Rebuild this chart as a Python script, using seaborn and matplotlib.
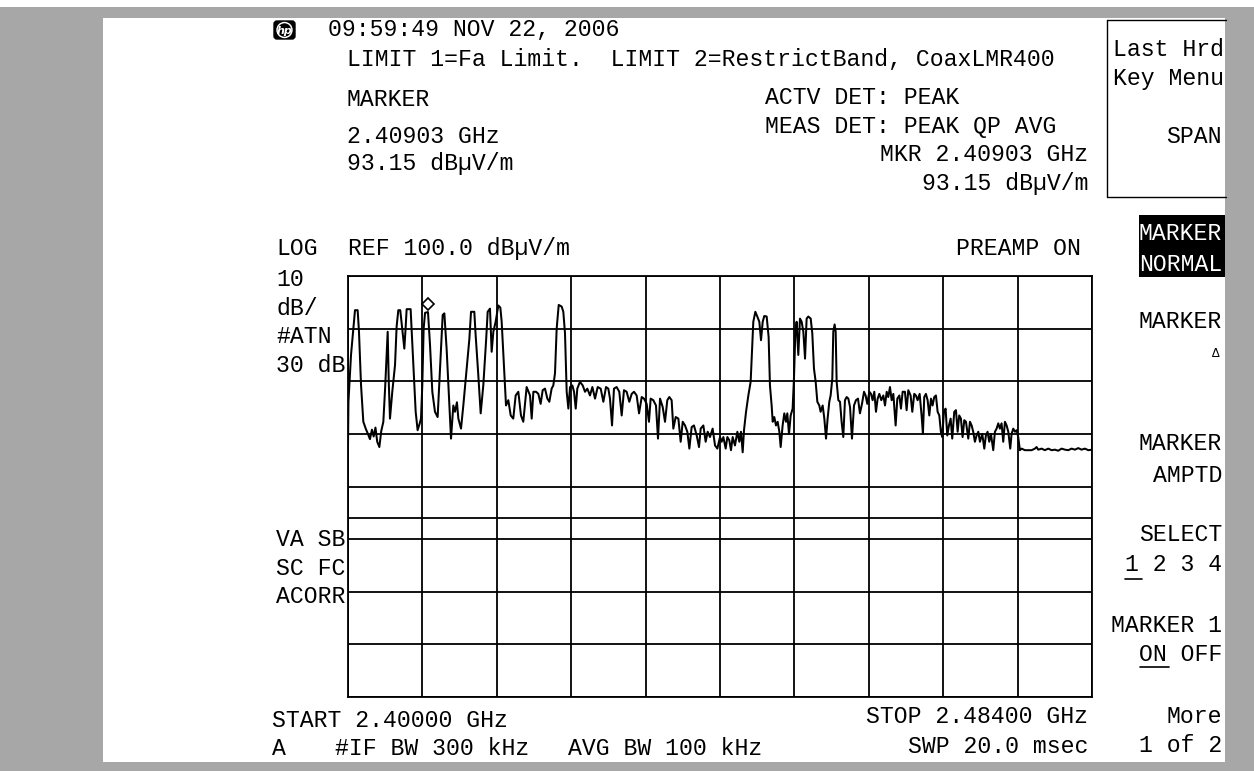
import numpy as np
import pandas as pd
import matplotlib
matplotlib.use("Agg")
import matplotlib.pyplot as plt
from matplotlib.patches import Rectangle, FancyBboxPatch, Circle
import seaborn as sns

# ---------------- data ----------------
start_ghz = 2.40000
stop_ghz = 2.48400
ref_level = 100.0          # dBuV/m
db_per_div = 10
limit2_level = 54.0        # restricted band limit line
marker_freq_mhz = 2409.03
marker_level = 93.15

freq_mhz = [
    2400.00, 2400.05, 2400.34, 2400.60, 2400.79, 2401.09, 2401.24, 2401.47, 2401.73, 2402.00,
    2402.20, 2402.48, 2402.70, 2402.90, 2403.10, 2403.30, 2403.54, 2403.75, 2403.99, 2404.20,
    2404.37, 2404.48, 2404.60, 2404.74, 2405.00, 2405.31, 2405.49, 2405.68, 2405.90, 2406.06,
    2406.36, 2406.50, 2406.62, 2407.07, 2407.38, 2407.64, 2407.86, 2408.10, 2408.24, 2408.39,
    2408.54, 2408.70, 2409.03, 2409.26, 2409.52, 2409.82, 2410.12, 2410.39, 2410.69, 2410.88,
    2411.14, 2411.40, 2411.63, 2411.89, 2412.08, 2412.30, 2412.46, 2412.76, 2413.02, 2413.40,
    2413.70, 2413.89, 2414.26, 2414.41, 2414.71, 2414.98, 2415.28, 2415.60, 2415.77, 2416.03,
    2416.22, 2416.41, 2416.67, 2416.97, 2417.20, 2417.35, 2417.65, 2417.84, 2418.10, 2418.37,
    2418.66, 2418.93, 2419.23, 2419.53, 2419.79, 2420.17,
    2420.55, 2420.74, 2420.93, 2421.23, 2421.49, 2421.75, 2421.98, 2422.24, 2422.51, 2422.73,
    2422.99, 2423.18, 2423.37, 2423.56, 2423.79, 2424.12, 2424.31, 2424.50, 2424.69, 2424.88,
    2425.07, 2425.33, 2425.52, 2425.71, 2425.89, 2426.19, 2426.50, 2426.76, 2427.02, 2427.32,
    2427.59, 2427.89, 2428.19, 2428.53, 2428.83, 2429.13, 2429.39, 2429.58, 2429.81, 2430.03,
    2430.33, 2430.63, 2430.90, 2431.16, 2431.46, 2431.76, 2432.03, 2432.29, 2432.59, 2432.86,
    2433.16, 2433.42, 2433.72, 2433.98, 2434.17, 2434.47, 2434.77, 2435.00, 2435.23, 2435.53,
    2435.79, 2436.05, 2436.28, 2436.54, 2436.73, 2437.00, 2437.30, 2437.56, 2437.79, 2438.05,
    2438.31, 2438.54, 2438.80, 2439.06, 2439.37, 2439.63, 2439.82, 2440.12, 2440.38, 2440.61,
    2440.87, 2441.17, 2441.44, 2441.70,
    2442.00, 2442.19, 2442.38, 2442.64, 2442.83, 2443.05, 2443.24, 2443.43, 2443.69, 2443.96,
    2444.18, 2444.37, 2444.56, 2444.71, 2444.94, 2445.20, 2445.46, 2445.61, 2445.76, 2445.99,
    2446.21, 2446.44, 2446.63, 2446.82, 2447.00, 2447.27, 2447.49, 2447.64, 2447.83, 2447.95,
    2448.13, 2448.32, 2448.51, 2448.70, 2448.85, 2449.07, 2449.26, 2449.45, 2449.60, 2449.79,
    2449.98, 2450.20, 2450.35, 2450.50, 2450.65, 2450.84, 2451.03, 2451.22, 2451.41, 2451.60,
    2451.78, 2451.97, 2452.24, 2452.42, 2452.61, 2452.80, 2452.99, 2453.21, 2453.36, 2453.59,
    2453.78, 2453.97, 2454.15, 2454.34, 2454.49, 2454.68, 2454.79, 2454.94, 2455.06, 2455.17,
    2455.36, 2455.55, 2455.73, 2455.92, 2456.11, 2456.30, 2456.49, 2456.68, 2456.90, 2457.13,
    2457.35, 2457.58, 2457.80, 2458.03, 2458.26, 2458.44, 2458.63, 2458.86, 2459.05, 2459.23,
    2459.42, 2459.61, 2459.80, 2459.99, 2460.21, 2460.44, 2460.63, 2460.82, 2461.00, 2461.19,
    2461.38, 2461.57, 2461.83, 2462.02, 2462.25, 2462.43, 2462.62,
    2462.88, 2463.07, 2463.26, 2463.52, 2463.71, 2463.93, 2464.12, 2464.31, 2464.54, 2464.76,
    2464.91, 2465.06, 2465.25, 2465.44, 2465.63, 2465.82, 2466.00, 2466.19, 2466.38, 2466.57,
    2466.76, 2466.94, 2467.09, 2467.28, 2467.47, 2467.66, 2467.85, 2468.04, 2468.22, 2468.45,
    2468.64, 2468.83, 2469.01, 2469.20, 2469.39, 2469.58, 2469.77, 2470.03, 2470.22, 2470.41,
    2470.59, 2470.78, 2470.97, 2471.16, 2471.35, 2471.61, 2471.84, 2472.02, 2472.21, 2472.40,
    2472.59, 2472.85, 2473.04, 2473.23, 2473.42, 2473.60, 2473.79, 2473.98, 2474.17, 2474.36,
    2474.55, 2474.77, 2474.92, 2475.11, 2475.30, 2475.49, 2475.67, 2475.86, 2476.05, 2476.43,
    2476.80, 2477.18, 2477.56, 2477.74, 2477.93, 2478.31, 2478.68, 2479.06, 2479.44, 2479.81,
    2480.19, 2480.57, 2480.94, 2481.32, 2481.70, 2482.07, 2482.45, 2482.82, 2483.20, 2483.58,
    2484.00,
]

level_db = [
    67.8, 76.1, 85.0, 90.0, 93.5, 93.5, 89.4, 79.3, 72.3, 71.0,
    70.2, 69.0, 70.8, 69.5, 71.2, 68.5, 67.5, 70.5, 72.3, 79.0,
    85.6, 89.4, 80.0, 72.9, 78.0, 83.1, 90.4, 93.5, 93.5, 91.0,
    86.2, 90.0, 93.7, 93.7, 83.1, 74.2, 70.7, 72.0, 72.9, 79.3,
    90.0, 93.0, 93.15, 86.9, 78.0, 74.2, 73.2, 82.4, 92.6, 92.9,
    86.0, 77.0, 69.1, 75.4, 74.2, 76.0, 72.9, 71.0, 75.4, 82.4,
    88.0, 93.2, 93.2, 88.8, 81.2, 73.9, 79.3, 88.0, 93.2, 93.8,
    85.6, 89.4, 91.3, 94.4, 94.0, 91.3, 81.8, 75.4, 76.4, 73.5,
    72.9, 77.3, 78.0, 73.5, 72.3, 78.9,
    77.3, 72.9, 78.0, 78.0, 77.6, 75.7, 78.3, 78.6, 76.7, 76.1,
    78.6, 79.2, 81.5, 90.0, 94.5, 94.2, 93.2, 89.1, 78.0, 74.8,
    78.9, 79.2, 78.0, 74.8, 78.6, 79.9, 79.2, 78.0, 78.6, 77.3,
    78.9, 76.7, 78.9, 78.6, 76.1, 78.9, 78.6, 76.7, 71.6, 78.6,
    78.9, 78.0, 73.5, 78.3, 78.0, 76.1, 77.6, 78.0, 77.3, 73.9,
    77.0, 76.7, 75.7, 72.3, 76.7, 76.4, 75.4, 69.1, 76.7, 75.1,
    72.3, 76.4, 77.0, 76.4, 71.0, 73.2, 72.9, 68.5, 72.3, 71.6,
    70.4, 67.2, 71.3, 71.6, 69.7, 67.5, 71.0, 71.6, 68.5, 70.4,
    69.4, 71.0, 67.8, 67.2,
    69.4, 68.5, 69.4, 67.2, 69.4, 68.8, 66.9, 69.4, 67.8, 70.4,
    68.5, 70.4, 66.5, 70.7, 74.2, 77.3, 79.9, 85.6, 91.3, 93.2,
    92.3, 91.3, 87.8, 91.3, 92.4, 92.3, 88.4, 79.2, 75.4, 72.3,
    73.2, 71.6, 72.3, 70.4, 67.5, 71.6, 73.9, 72.3, 73.9, 70.0,
    73.5, 74.8, 80.5, 88.8, 91.3, 85.0, 91.9, 91.3, 89.4, 84.3,
    91.9, 92.3, 91.9, 89.1, 82.4, 79.9, 76.1, 75.4, 74.2, 75.4,
    72.9, 69.1, 72.9, 76.1, 77.3, 80.5, 89.4, 90.8, 89.4, 79.9,
    76.4, 76.1, 72.3, 69.4, 76.4, 77.0, 76.7, 75.1, 69.1, 75.4,
    76.4, 76.7, 73.9, 75.7, 78.0, 77.3, 75.7, 78.0, 77.6, 76.4,
    78.0, 74.2, 76.7, 77.6, 76.4, 77.3, 75.4, 78.0, 77.0, 78.9,
    76.4, 77.6, 71.6, 76.7, 77.3, 74.8, 78.0,
    78.0, 74.5, 78.3, 77.3, 74.2, 77.6, 77.3, 76.4, 77.6, 73.5,
    70.0, 77.0, 77.6, 76.4, 73.5, 76.7, 75.4, 77.0, 77.3, 74.2,
    73.5, 70.4, 69.4, 74.2, 74.8, 69.7, 71.6, 72.9, 69.1, 74.2,
    74.5, 70.4, 73.5, 72.9, 69.4, 72.6, 72.3, 69.1, 72.3, 71.6,
    70.4, 68.5, 69.7, 70.4, 68.5, 70.0, 67.2, 69.7, 70.4, 68.5,
    70.0, 66.9, 70.4, 71.0, 72.0, 71.0, 72.0, 68.5, 72.3, 71.6,
    70.4, 67.2, 70.0, 71.0, 70.4, 70.7, 69.4, 66.9, 67.2, 66.9,
    66.9, 66.9, 67.2, 67.5, 67.0, 67.2, 66.9, 67.2, 66.9, 67.0,
    66.8, 67.2, 67.0, 66.9, 67.2, 67.0, 67.3, 67.0, 67.2, 66.9,
    67.0,
]

# ---------------- figure ----------------
sns.set_theme(style="white")
plt.rcParams["font.family"] = ["Liberation Mono", "DejaVu Sans Mono"]

W, H = 1254, 771
fig = plt.figure(figsize=(W / 100, H / 100), dpi=100, facecolor="white")

# overlay axes in pixel coordinates for screen annotations
ov = fig.add_axes([0, 0, 1, 1], zorder=0)
ov.set_xlim(0, W)
ov.set_ylim(H, 0)
ov.axis("off")

gray = "#a7a7a7"
ov.add_patch(Rectangle((0, 7), W, 11, color=gray, lw=0))
ov.add_patch(Rectangle((0, 7), 103, H, color=gray, lw=0))
ov.add_patch(Rectangle((1225, 7), W - 1225, H, color=gray, lw=0))
ov.add_patch(Rectangle((0, 762), W, 10, color=gray, lw=0))

FS = 16.7
def txt(x, y, s, ha="left", color="black", **kw):
    ov.text(x, y, s, ha=ha, va="baseline", fontsize=FS, color=color, **kw)

# hp logo
ov.add_patch(FancyBboxPatch((274, 21), 21, 18, boxstyle="round,pad=0,rounding_size=3",
                            fc="black", ec="black"))
ov.add_patch(Circle((284.5, 30), 7.5, fc="white", ec="white"))
ov.add_patch(Circle((284.5, 30), 6.0, fc="black", ec="black"))
ov.text(284.5, 30.5, "hp", ha="center", va="center", fontsize=8, color="white",
        style="italic", fontweight="bold", family="DejaVu Sans")

# header text
txt(328, 36, "09:59:49 NOV 22, 2006")
txt(347, 66, "LIMIT 1=Fa Limit.  LIMIT 2=RestrictBand, CoaxLMR400")
txt(347, 106, "MARKER")
txt(347, 143, "2.40903 GHz")
txt(347, 170, "93.15 dB\u00b5V/m")
txt(765, 104, "ACTV DET: PEAK")
txt(765, 133, "MEAS DET: PEAK QP AVG")
txt(1088, 161, "MKR 2.40903 GHz", ha="right")
txt(1088, 190, "93.15 dB\u00b5V/m", ha="right")

txt(276, 255, "LOG")
txt(348, 255, "REF 100.0 dB\u00b5V/m")
txt(1081, 255, "PREAMP ON", ha="right")
txt(276, 286, "10")
txt(276, 315, "dB/")
txt(276, 343, "#ATN")
txt(276, 372, "30 dB")
txt(276, 546, "VA SB")
txt(276, 575, "SC FC")
txt(276, 603, "ACORR")

txt(272, 727, "START 2.40000 GHz")
txt(272, 755, "A")
txt(335, 755, "#IF BW 300 kHz")
txt(568, 755, "AVG BW 100 kHz")
txt(1088, 723, "STOP 2.48400 GHz", ha="right")
txt(1088, 753, "SWP 20.0 msec", ha="right")

# softkey panel
ov.plot([1107, 1107, 1226], [20, 197, 197], color="black", lw=1.0)
ov.plot([1107, 1226], [20, 20], color="black", lw=1.0)
txt(1113, 56, "Last Hrd")
txt(1113, 85, "Key Menu")
txt(1222, 143, "SPAN", ha="right")
ov.add_patch(Rectangle((1139, 215), 86, 62, color="black", lw=0))
txt(1222, 240, "MARKER", ha="right", color="white")
txt(1222, 271, "NORMAL", ha="right", color="white")
txt(1222, 328, "MARKER", ha="right")
ov.text(1216, 357, "\u0394", ha="center", va="baseline", fontsize=9, color="black")
txt(1222, 450, "MARKER", ha="right")
txt(1222, 482, "AMPTD", ha="right")
txt(1222, 541, "SELECT", ha="right")
txt(1222, 571, "1 2 3 4", ha="right")
ov.plot([1125, 1142], [579, 579], color="black", lw=1.2)
txt(1222, 632, "MARKER 1", ha="right")
txt(1222, 661, "ON OFF", ha="right")
ov.plot([1140, 1169], [667, 667], color="black", lw=1.2)
txt(1222, 723, "More", ha="right")
txt(1222, 752, "1 of 2", ha="right")

# ---------------- graticule + trace ----------------
left, right, top, bottom = 348, 1092, 276, 697
ax = fig.add_axes([left / W, 1 - bottom / H, (right - left) / W, (bottom - top) / H], zorder=1)
ax.set_facecolor("white")

df = pd.DataFrame({"freq": freq_mhz, "level": level_db})
f0, f1 = start_ghz * 1000, stop_ghz * 1000
bottom_level = ref_level - 8 * db_per_div

ax.set_xlim(f0, f1)
ax.set_ylim(bottom_level, ref_level)
ax.set_xticks(np.linspace(f0, f1, 11))
ax.set_yticks(np.arange(bottom_level, ref_level + 1, db_per_div))
ax.grid(True, color="black", lw=1.3)
ax.tick_params(length=0, labelbottom=False, labelleft=False)
for sp in ax.spines.values():
    sp.set_color("black")
    sp.set_linewidth(1.3)

ax.axhline(limit2_level, color="black", lw=1.3)

sns.lineplot(data=df, x="freq", y="level", ax=ax, color="black", lw=1.45,
             estimator=None, sort=False, legend=False)
ax.plot([marker_freq_mhz], [marker_level + 1.6], marker="D", ms=6, mfc="white",
        mec="black", mew=1.2, zorder=5)
ax.set_xlabel("")
ax.set_ylabel("")

fig.savefig("out.png", dpi=100, facecolor="white")
